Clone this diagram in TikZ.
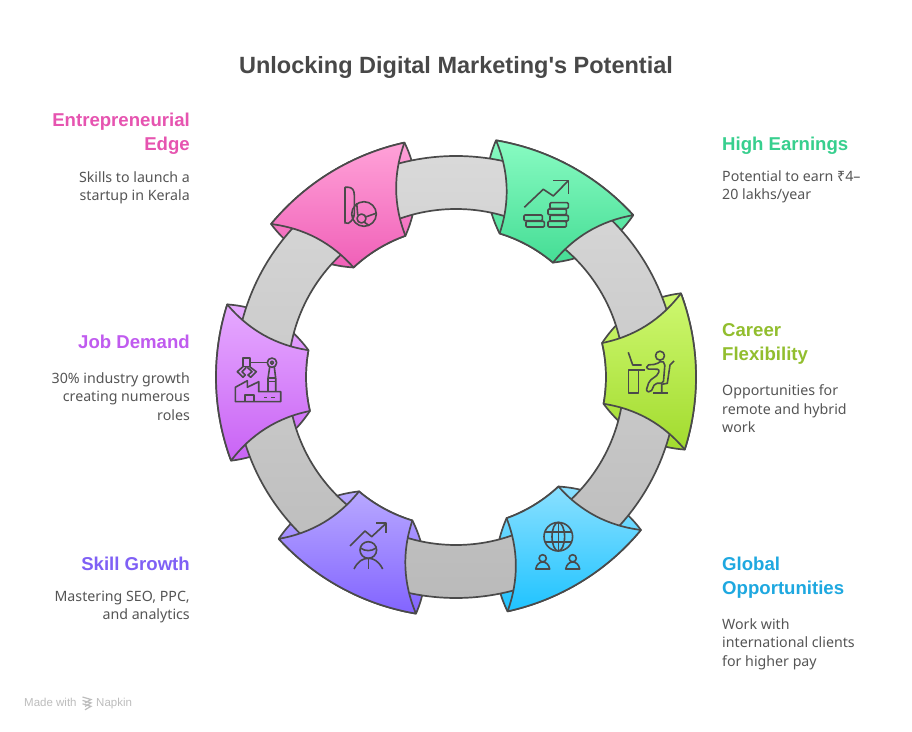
\documentclass[tikz,border=0pt]{standalone}
\usepackage{fontspec}
\usepackage{xcolor}
\setmainfont{Liberation Sans}
\newfontfamily\plainfont{Liberation Sans}
\newfontfamily\copyfont{Noto Sans}
\usetikzlibrary{positioning}

\definecolor{linecol}{HTML}{4A4A4A}
\definecolor{headcol}{HTML}{484848}
\definecolor{bodycol}{HTML}{555555}
\definecolor{markcol}{HTML}{BDBDBD}
\definecolor{ringtop}{HTML}{D9D9D9}
\definecolor{ringbot}{HTML}{BABABA}
\definecolor{greentop}{HTML}{88FBC2}
\definecolor{greenbot}{HTML}{45DD95}
\definecolor{limetop}{HTML}{CEF870}
\definecolor{limebot}{HTML}{A2DB2E}
\definecolor{bluetop}{HTML}{8AE0FF}
\definecolor{bluebot}{HTML}{1FC3FF}
\definecolor{violettop}{HTML}{B8A8FF}
\definecolor{violetbot}{HTML}{8264FF}
\definecolor{purpletop}{HTML}{E6AAFF}
\definecolor{purplebot}{HTML}{C963F5}
\definecolor{pinktop}{HTML}{FFA2D8}
\definecolor{pinkbot}{HTML}{F060B8}
\definecolor{hightitle}{HTML}{37CF8E}
\definecolor{careertitle}{HTML}{92BE2E}
\definecolor{globaltitle}{HTML}{1EA8E0}
\definecolor{skilltitle}{HTML}{7F60F5}
\definecolor{jobtitle}{HTML}{C05BEF}
\definecolor{edgetitle}{HTML}{E654B0}

\tikzset{
  piece/.style={draw=linecol, line width=1.7pt, line join=round},
  iconline/.style={draw=linecol, line width=1.6pt, line join=round},
  heading/.style={inner sep=0pt, text=headcol, font=\plainfont\bfseries\fontsize{23.5}{28}\selectfont},
  titleleft/.style={inner sep=0pt, anchor=north east, align=right, font=\bfseries\fontsize{18.6}{24}\selectfont},
  titleright/.style={inner sep=0pt, anchor=north west, align=left, font=\bfseries\fontsize{18.6}{24}\selectfont},
  bodyleft/.style={inner sep=0pt, anchor=north east, align=right, text=bodycol, font=\copyfont\fontsize{14.2}{18.5}\selectfont},
  bodyright/.style={inner sep=0pt, anchor=north west, align=left, text=bodycol, font=\copyfont\fontsize{14.2}{18.5}\selectfont},
  madewith/.style={inner sep=0pt, anchor=base west, text=markcol, font=\fontsize{11.5}{13}\selectfont}
}

\def\piecelist{61.4/greentop/greenbot, 1.4/limetop/limebot, -58.6/bluetop/bluebot,
  -118.6/violettop/violetbot, 181.4/purpletop/purplebot, 121.4/pinktop/pinkbot}

\begin{document}
\begin{tikzpicture}[x=1pt, y=1pt]
  \useasboundingbox[fill=white] (0,0) rectangle (912,731);

%%%%%%%%%%%% Ring
  \begin{scope}[shift={(456,354)}]
    % rear of each piece, the flaps
    \foreach \a/\ctop/\cbot in \piecelist {
      \path[piece, top color=\ctop, bottom color=\cbot]
        (\a+19:240) arc[start angle=\a+19, end angle=\a-19, radius=240]
        .. controls (\a-21.2:207.7) and (\a-19.5:177.2) .. (\a-11.7:150)
        arc[start angle=\a-11.7, end angle=\a+11.7, radius=150]
        .. controls (\a+19.5:177.2) and (\a+21.2:207.7) .. cycle;
    }
    \path[piece, even odd rule, top color=ringtop, bottom color=ringbot]
      (0,0) circle[radius=221] (0,0) circle[radius=168];
    % front of each piece
    \foreach \a/\ctop/\cbot in \piecelist {
      \path[piece, top color=\ctop, bottom color=\cbot]
        (\a+19:240) arc[start angle=\a+19, end angle=\a-19, radius=240]
        .. controls (\a-14.2:212.7) and (\a-11.4:183.2) .. (\a-11.7:150)
        arc[start angle=\a-11.7, end angle=\a+11.7, radius=150]
        .. controls (\a+11.4:183.2) and (\a+14.2:212.7) .. cycle;
    }
  \end{scope}

  \begin{scope}[shift={(0,731)}, y=-1pt]
%%%%%%%%%%%% Texts
    \node[heading] (maintitle) at (456,67) {Unlocking Digital Marketing's Potential};

    \node[titleleft, text=edgetitle] (edgehead) at (190,113) {Entrepreneurial\\Edge};
    \node[bodyleft] (edgebody) at (190,171.5) {Skills to launch a\\startup in Kerala};
    \node[titleleft, text=jobtitle] (jobhead) at (190,335) {Job Demand};
    \node[bodyleft] (jobbody) at (190,372.5) {30\% industry growth\\creating numerous\\roles};
    \node[titleleft, text=skilltitle] (skillhead) at (190,557) {Skill Growth};
    \node[bodyleft] (skillbody) at (190,590.5) {Mastering SEO, PPC,\\and analytics};

    \node[titleright, text=hightitle] (highhead) at (722,137) {High Earnings};
    \node[bodyright] (highbody) at (722,170.5) {Potential to earn ₹4–\\20 lakhs/year};
    \node[titleright, text=careertitle] (careerhead) at (722,323) {Career\\Flexibility};
    \node[bodyright] (careerbody) at (722,384.5) {Opportunities for\\remote and hybrid\\work};
    \node[titleright, text=globaltitle] (globalhead) at (722,557) {Global\\Opportunities};
    \node[bodyright] (globalbody) at (722,618.5) {Work with\\international clients\\for higher pay};

    \node[madewith] (madetext) at (24,706.5) {Made with};
    \node[madewith] (napkintext) at (96,706.5) {Napkin};
    \foreach \i in {0,1,2}
      \draw[markcol, line width=1.2pt] (82.5,697+\i*3.4) -- (91,699.5+\i*3.4) -- (85,703+\i*3.4);

%%%%%%%%%%%% Earnings icon
    \draw[iconline] (524.3,207.3) -- (543.3,189.3) -- (553.3,196) -- (568.3,180.7);
    \draw[iconline] (553.3,180.7) -- (568.6,180.7) -- (568.6,194);
    \foreach \x/\yy in {524/215, 526/221.3, 550/202.7, 548/209, 550/215.3, 548/221.3}
      \draw[iconline, rounded corners=1pt] (\x,\yy) rectangle +(18.3,5.7);

%%%%%%%%%%%% Startup icon
    \draw[iconline] (344.3,222.7) -- (348.3,223.3) .. controls (352,221) and (354.3,218) .. (354.3,213.3)
      -- (354.3,195) .. controls (354.3,190) and (352,187.3) .. (348.3,187.3) -- (345,187.3) -- (345,222.3);
    \draw[iconline] (364,214) circle[radius=12.3];
    \draw[iconline] (361.5,218.5) circle[radius=4.5];
    \draw[iconline] (357.7,215) -- (356.7,203);
    \draw[iconline] (365.5,217) -- (376,213.3);
    \draw[iconline] (364,222) -- (369,225.5);

%%%%%%%%%%%% Factory icon
    \draw[iconline] (243,358.3) rectangle (249.7,366.7);
    \draw[iconline] (249.7,362.7) -- (267.3,362.7);
    \draw[iconline] (272,362.7) circle[radius=4.7];
    \draw[iconline] (272,362.7) circle[radius=1.6];
    \draw[iconline] (269.7,367) -- (268,378.3) -- (268,391.7);
    \draw[iconline] (274.3,367) -- (275.7,378.3) -- (275.7,391.7);
    \draw[iconline] (268,378.3) -- (275.7,378.3);
    \draw[iconline] (268,381.7) -- (275.7,381.7);
    \draw[iconline] (243,366.7) -- (237.3,371.7) -- (243,377.3) -- (245.3,375) -- (242,371.7) -- (246.3,367.3);
    \draw[iconline] (249.7,366.7) -- (256.3,371.7) -- (250.7,377.3) -- (248,375) -- (252,371.7) -- (247.3,367.3);
    \draw[iconline] (235.3,401.7) -- (235.3,387.3) -- (247.3,380.7) -- (247.3,387.3) -- (258.7,381.7)
      -- (258.7,391.7) -- (280.7,391.7) -- (280.7,401.7) -- cycle;
    \draw[iconline] (244.7,401.7) -- (244.7,395) -- (254,395) -- (254,401.7);
    \draw[iconline] (264,397.7) -- (267.3,397.7);
    \draw[iconline] (271.3,397.7) -- (274.7,397.7);

%%%%%%%%%%%% Skill icon
    \draw[iconline] (350,546) -- (365,531) -- (371.7,536.7) -- (385,524.3);
    \draw[iconline] (376,523.3) -- (385.7,523.3) -- (385.7,533.3);
    \draw[iconline] (368.3,550) circle[radius=8.3];
    \draw[iconline] (360.5,548) .. controls (365,551.5) and (371.5,551.5) .. (376,548);
    \draw[iconline] (368.3,558.3) -- (368.3,568.5);
    \draw[iconline] (354,569) .. controls (358,561) and (363,558.3) .. (368.3,558.3)
      .. controls (373.6,558.3) and (378.6,561) .. (382.7,569);

%%%%%%%%%%%% Global icon
    \draw[iconline] (558.3,536.7) circle[radius=14.3];
    \draw[iconline] (558.3,536.7) ellipse[x radius=6.3, y radius=14.3];
    \draw[iconline] (558.3,522.4) -- (558.3,551);
    \draw[iconline] (544.9,531.7) -- (571.7,531.7);
    \draw[iconline] (544.9,541.7) -- (571.7,541.7);
    \foreach \x in {542.7,572.7} {
      \draw[iconline] (\x,558.3) circle[radius=3.6];
      \draw[iconline] (\x-7,569) .. controls (\x-6,564) and (\x-3,562) .. (\x,562)
        .. controls (\x+3,562) and (\x+6,564) .. (\x+7,569) -- cycle;
    }

%%%%%%%%%%%% Flexibility icon
    \draw[iconline] (628.3,352.3) -- (632.7,365) -- (641.7,365);
    \draw[iconline] (628.3,370) rectangle (638.3,393.3);
    \draw[iconline] (638.3,370) -- (645,370);
    \draw[iconline] (660,355.7) circle[radius=4.5];
    \draw[iconline, rounded corners=2pt] (646.7,369) -- (646.7,365) -- (656,364.3) -- (661.7,360.7) -- (665,363.3)
      -- (663.3,383.3) -- (655,383.3) -- (650.7,392.3) -- (646,391) -- (649.3,381) -- (658.3,374.3)
      -- (659.3,369.3) -- cycle;
    \draw[iconline] (674,361) -- (670,365) -- (667.3,383.3) -- (661.7,384.3) -- (661.7,393.3);
    \draw[iconline] (653.3,393.3) -- (668.3,393.3);
  \end{scope}
\end{tikzpicture}
\end{document}
